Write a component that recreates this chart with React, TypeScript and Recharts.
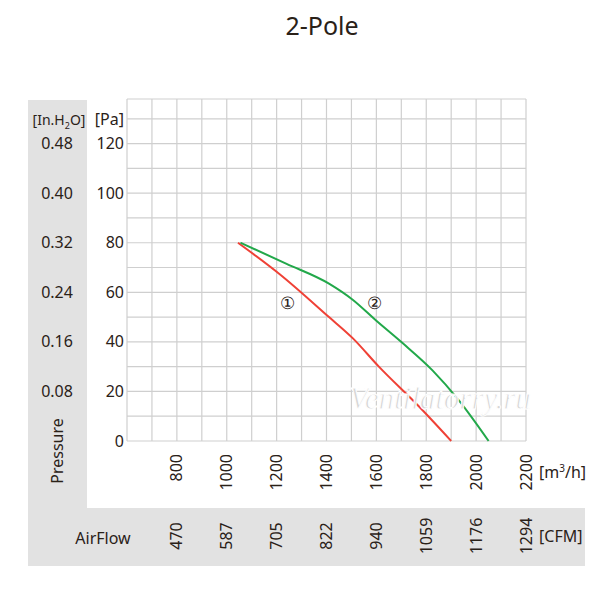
import React from 'react';
import { CartesianGrid, Line, LineChart, ReferenceDot, XAxis, YAxis } from 'recharts';

const flowTicks = [600, 700, 800, 900, 1000, 1100, 1200, 1300, 1400, 1500, 1600, 1700, 1800, 1900, 2000, 2100, 2200];
const flowLabels = [800, 1000, 1200, 1400, 1600, 1800, 2000, 2200];
const cfmLabels = ['470', '587', '705', '822', '940', '1059', '1176', '1294'];

const paTicks = [0, 10, 20, 30, 40, 50, 60, 70, 80, 90, 100, 110, 120, 130, 138];
const paLabels = [0, 20, 40, 60, 80, 100, 120];
const inH2OLabels = ['', '0.08', '0.16', '0.24', '0.32', '0.40', '0.48'];

const curve1 = [
  { q: 1045, p: 80 },
  { q: 1210, p: 67.5 },
  { q: 1410, p: 50 },
  { q: 1505, p: 41.5 },
  { q: 1610, p: 30 },
  { q: 1770, p: 14 },
  { q: 1900, p: 0 },
];

const curve2 = [
  { q: 1055, p: 80 },
  { q: 1240, p: 71.5 },
  { q: 1410, p: 63.5 },
  { q: 1505, p: 57 },
  { q: 1600, p: 48.5 },
  { q: 1705, p: 39.5 },
  { q: 1825, p: 28.5 },
  { q: 1930, p: 16.5 },
  { q: 2050, p: 0 },
];

const INK = '#2a2118';
const FONT = '"Noto Sans", sans-serif';

const FlowTick = (props: any) => {
  const { x, payload } = props;
  const i = flowLabels.indexOf(payload.value);
  if (i < 0) return null;
  return (
    <g fontFamily={FONT} fontSize={16} fill={INK}>
      <text x={x} y={454} transform={`rotate(-90 ${x} 454)`} textAnchor="end" dy="0.35em">
        {payload.value}
      </text>
      <text x={x} y={536} transform={`rotate(-90 ${x} 536)`} textAnchor="middle" dy="0.35em">
        {cfmLabels[i]}
      </text>
    </g>
  );
};

const PaTick = (props: any) => {
  const { y, payload } = props;
  const i = paLabels.indexOf(payload.value);
  if (i < 0) return null;
  return (
    <g fontFamily={FONT} fontSize={16} fill={INK}>
      <text x={124} y={y} textAnchor="end" dy="0.35em">
        {payload.value}
      </text>
      <text x={57} y={y} textAnchor="middle" dy="0.35em">
        {inH2OLabels[i]}
      </text>
    </g>
  );
};

const CircleLabel = (text: string) => (props: any) => (
  <text x={props.cx} y={props.cy} textAnchor="middle" dy="0.35em" fontFamily={FONT} fontSize={17} fill={INK}>
    {text}
  </text>
);

export default function App() {
  return (
    <div style={{ position: 'relative', width: 600, height: 600, margin: -8, background: '#fff' }}>
      <div style={{ position: 'absolute', left: 28, top: 100, width: 59, height: 408, background: '#e2e2e2' }} />
      <div style={{ position: 'absolute', left: 28, top: 508, width: 557, height: 58, background: '#e2e2e2' }} />
      <div style={{ position: 'absolute', left: 0, top: 0 }}>
        <LineChart width={600} height={600} margin={{ top: 99, right: 74, bottom: 59, left: 27 }}>
          <CartesianGrid stroke="#cfcfcf" strokeWidth={1.2} />
          <XAxis
            type="number"
            dataKey="q"
            domain={[600, 2200]}
            ticks={flowTicks}
            interval={0}
            height={100}
            axisLine={false}
            tickLine={false}
            tick={<FlowTick />}
          />
          <YAxis
            type="number"
            dataKey="p"
            domain={[0, 138]}
            ticks={paTicks}
            interval={0}
            width={100}
            axisLine={false}
            tickLine={false}
            tick={<PaTick />}
          />
          <Line data={curve1} dataKey="p" type="monotone" stroke="#ef4136" strokeWidth={2} dot={false} isAnimationActive={false} />
          <Line data={curve2} dataKey="p" type="monotone" stroke="#22a84a" strokeWidth={2} dot={false} isAnimationActive={false} />
          <ReferenceDot x={1244} y={55.5} r={0} shape={CircleLabel('①')} />
          <ReferenceDot x={1592} y={55.5} r={0} shape={CircleLabel('②')} />
        </LineChart>
      </div>
      <svg width={600} height={600} style={{ position: 'absolute', left: 0, top: 0, pointerEvents: 'none' }}>
        <g fontFamily={FONT} fill={INK}>
          <text x={322} y={26} textAnchor="middle" dy="0.35em" fontSize={25}>2-Pole</text>
          <text x={59} y={120} textAnchor="middle" dy="0.35em" fontSize={14}>
            [In.H<tspan fontSize={9} dy="4">2</tspan><tspan dy="-4">O]</tspan>
          </text>
          <text x={124} y={119} textAnchor="end" dy="0.35em" fontSize={16}>[Pa]</text>
          <text x={57} y={451} textAnchor="middle" dy="0.35em" fontSize={16} transform="rotate(-90 57 451)">Pressure</text>
          <text x={103} y={538} textAnchor="middle" dy="0.35em" fontSize={16}>AirFlow</text>
          <text x={539} y={472} dy="0.35em" fontSize={16}>
            [m<tspan fontSize={10} dy="-6">3</tspan><tspan dy="6">/h]</tspan>
          </text>
          <text x={539} y={536} dy="0.35em" fontSize={16}>[CFM]</text>
        </g>
        <text
          x={440}
          y={398}
          textAnchor="middle"
          dy="0.35em"
          fontFamily='"Liberation Serif", serif'
          fontStyle="italic"
          fontSize={31}
          fill="#d6d6d6"
          stroke="#ffffff"
          strokeWidth={1}
        >
          Ventilatorry.ru
        </text>
      </svg>
    </div>
  );
}
